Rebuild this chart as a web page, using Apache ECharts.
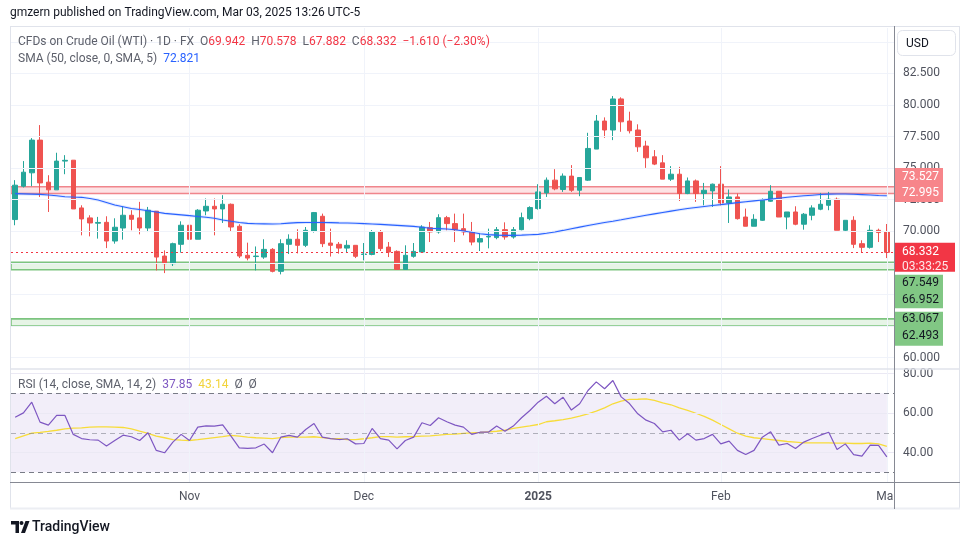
<!DOCTYPE html>
<html>
<head>
<meta charset="utf-8">
<title>CFDs on Crude Oil (WTI) 1D</title>
<script src="https://cdn.jsdelivr.net/npm/echarts@6/dist/echarts.min.js"></script>
<style>
  html, body { margin: 0; padding: 0; background: #fff; }
  #chart { width: 970px; height: 545px; }
</style>
</head>
<body>
<div id="chart"></div>
<script>
// trading days shown on the chart, by month
const octDays = [3,4,7,8,9,10,11,14,15,16,17,18,21,22,23,24,25,28,29,30,31];
const novDays = [1,4,5,6,7,8,11,12,13,14,15,18,19,20,21,22,25,26,27,28,29];
const decDays = [2,3,4,5,6,9,10,11,12,13,16,17,18,19,20,23,24,26,27,30,31];
const janDays = [2,3,6,7,8,9,10,13,14,15,16,17,20,21,22,23,24,27,28,29,30,31];
const febDays = [3,4,5,6,7,10,11,12,13,14,17,18,19,20,21,24,25,26,27,28];
const marDays = [3];

const opens = [
  70.93,73.57,74.63,77.22,73.89,73.28,75.56,75.63,71.85,71.06,
  70.64,70.71,69.23,70.26,71.27,71.06,70.26,71.59,68.04,67.44,
  68.97,70.48,69.37,71.61,71.98,71.77,72.14,70.40,68.10,68.00,
  67.96,68.57,66.83,68.97,69.37,68.89,70.02,71.19,69.07,68.97,
  68.67,68.89,68.17,68.17,69.95,68.75,68.41,66.98,68.02,68.36,
  70.29,69.95,71.08,70.61,70.21,69.95,69.15,69.55,69.50,70.13,
  69.55,70.13,71.00,71.80,73.04,74.05,73.31,74.37,73.25,74.05,
  76.51,78.73,78.02,80.48,78.73,78.02,76.75,75.90,75.42,74.13,
  74.52,72.99,73.99,72.99,73.20,73.73,72.25,72.72,71.13,70.40,
  70.87,72.38,73.17,71.13,71.53,70.56,71.27,71.75,72.06,72.54,
  70.08,70.87,69.02,68.73,70.08,69.942
];
const closes = [
  73.65,74.68,77.22,73.83,73.28,75.56,75.62,71.77,70.98,70.66,
  70.70,69.23,70.32,71.27,70.95,70.26,71.67,67.96,67.44,69.02,
  70.48,69.37,71.67,71.98,71.77,72.14,70.34,68.04,67.88,68.04,
  68.57,66.83,69.02,69.37,68.89,70.08,71.48,69.02,68.89,68.67,
  68.89,68.02,68.20,69.95,68.63,68.36,66.98,68.10,68.41,70.34,
  69.95,71.08,70.61,70.13,69.95,69.15,69.42,69.60,70.13,69.55,
  70.13,71.08,71.88,73.12,74.05,73.36,74.37,73.25,74.26,76.56,
  78.73,78.02,80.48,78.67,77.96,76.69,75.82,75.32,74.13,74.52,
  72.99,73.99,72.99,73.25,73.73,72.25,72.72,71.00,70.40,70.95,
  72.46,73.17,71.13,71.53,70.56,71.35,71.85,72.14,72.54,70.08,
  70.87,68.97,68.73,70.08,69.90,68.332
];
const lows = [
  70.48,73.47,73.57,72.72,71.53,73.28,74.52,71.77,69.68,69.60,
  69.42,68.67,69.02,69.34,70.08,69.76,69.94,66.90,66.69,67.25,
  68.31,68.36,69.37,71.27,69.68,70.66,70.02,67.88,67.70,66.90,
  67.82,66.75,66.59,68.20,68.25,68.75,69.90,68.75,68.00,68.23,
  68.28,67.88,67.70,68.10,68.44,67.96,66.98,66.98,67.91,68.36,
  69.15,69.82,70.08,69.15,69.68,68.89,68.44,68.65,69.37,69.34,
  69.42,70.08,70.87,71.72,72.72,73.25,73.12,73.12,72.78,73.99,
  76.51,77.40,77.22,77.88,77.75,76.29,75.02,75.24,74.13,73.99,
  72.40,72.94,72.33,72.06,71.93,72.06,70.66,70.93,70.40,70.40,
  70.82,72.33,71.13,70.16,70.48,70.13,70.87,71.67,71.67,70.08,
  70.02,68.67,68.36,68.63,69.15,67.882
];
const highs = [
  74.05,75.56,77.38,78.41,74.44,76.22,76.03,75.63,72.06,71.27,
  71.14,71.19,71.03,71.98,71.67,72.33,71.93,71.59,68.49,69.10,
  70.79,71.40,71.75,72.60,72.60,72.86,72.20,70.56,69.10,68.80,
  69.37,68.67,69.37,69.76,70.16,70.34,71.53,71.40,70.21,69.15,
  69.29,68.89,69.07,70.10,70.10,69.15,68.49,68.89,69.07,70.48,
  70.74,71.35,71.22,71.40,71.40,70.74,69.82,70.21,70.34,70.71,
  70.34,71.48,71.98,73.73,74.26,74.92,74.58,75.24,74.26,77.80,
  79.21,79.02,80.71,80.61,79.47,78.47,77.17,76.43,76.03,75.16,
  75.10,74.26,74.10,73.83,73.78,75.16,73.31,72.99,71.80,71.35,
  72.60,73.65,73.17,71.53,71.98,71.45,72.06,73.04,73.12,72.67,
  70.87,71.19,69.29,70.48,70.21,70.578
];
// SMA (50) as drawn
const sma50 = [
  72.98,72.96,72.94,72.92,72.88,72.82,72.74,72.71,72.69,72.60,
  72.48,72.28,72.08,71.95,71.80,71.72,71.63,71.53,71.42,71.36,
  71.30,71.24,71.17,71.11,71.03,70.90,70.79,70.70,70.63,70.60,
  70.59,70.58,70.60,70.65,70.69,70.70,70.70,70.70,70.69,70.67,
  70.66,70.64,70.61,70.58,70.55,70.51,70.47,70.43,70.39,70.32,
  70.24,70.21,70.18,70.12,70.02,69.92,69.80,69.74,69.70,69.68,
  69.68,69.70,69.73,69.76,69.85,69.95,70.07,70.20,70.33,70.46,
  70.58,70.70,70.80,70.91,71.03,71.15,71.27,71.38,71.49,71.60,
  71.71,71.80,71.88,71.96,72.04,72.11,72.19,72.27,72.34,72.41,
  72.48,72.55,72.62,72.69,72.75,72.81,72.86,72.91,72.94,72.95,
  72.95,72.93,72.90,72.87,72.84,72.82
];
const rsi = [
  57.9,60.1,65.5,55.4,53.9,58.8,58.8,49.2,47.1,46.5,
  46.3,43.3,46.1,48.8,48.0,46.1,50.0,41.1,39.9,45.3,
  49.2,46.1,52.9,53.5,53.4,54.0,48.3,42.4,42.1,42.4,
  44.3,39.9,47.8,48.7,47.8,51.7,54.7,47.8,47.1,46.6,
  47.0,44.4,44.6,52.2,47.1,46.3,41.9,46.1,47.8,55.1,
  53.7,57.6,55.6,53.9,52.9,49.2,50.3,50.3,53.4,50.8,
  53.4,57.6,61.3,65.5,68.5,64.7,68.0,61.5,64.7,71.4,
  75.8,72.3,76.5,68.2,64.8,59.6,56.4,54.7,50.5,51.3,
  46.3,49.5,46.3,47.1,49.2,44.4,45.8,41.1,39.0,41.1,
  47.8,50.5,43.8,44.6,42.1,45.3,47.1,48.8,50.3,41.6,
  44.4,39.0,38.2,43.8,43.6,37.85
];
const rsiMa = [
  47.1,48.5,49.8,50.2,50.7,51.3,52.0,52.4,52.5,52.9,
  53.0,53.0,52.9,52.7,52.0,50.8,49.7,48.3,47.5,46.6,
  46.3,46.1,46.5,47.1,47.6,48.1,48.7,48.3,47.8,47.5,
  47.3,47.1,47.6,47.8,47.8,47.8,48.0,47.6,47.1,47.0,
  46.6,46.6,47.0,47.5,48.1,48.1,47.8,48.0,48.1,48.3,
  48.5,48.8,49.2,49.3,49.7,50.0,50.2,50.5,50.8,51.3,
  52.2,52.9,53.5,54.2,55.6,56.1,56.7,57.4,58.4,59.6,
  61.0,62.6,64.7,66.0,66.9,67.0,67.2,66.4,65.2,64.2,
  62.6,61.3,59.9,58.3,56.4,54.2,52.0,49.8,48.3,47.5,
  47.1,46.6,46.1,45.6,45.3,44.9,44.9,44.9,44.9,44.8,
  44.8,44.6,44.6,44.8,44.4,43.14
];

const priceTicks = [60, 62.5, 65, 67.5, 70, 72.5, 75, 77.5, 80, 82.5];
const priceGrid = [60, 62.5, 65, 67.5, 70, 72.5, 75, 77.5, 80, 82.5, 85];
const rsiTicks = [40, 60, 80];
const monthTicks = [['2024-11-01', 'Nov'], ['2024-12-02', 'Dec'], ['2025-01-02', '2025'], ['2025-02-03', 'Feb'], ['2025-03-03', 'Mar']];
const redZone = [72.995, 73.527];
const greenZones = [[66.952, 67.549], [62.493, 63.067]];
const lastPrice = 68.332;

const pad = d => (d < 10 ? '0' : '') + d;
const dates = [].concat(
  octDays.map(d => '2024-10-' + pad(d)),
  novDays.map(d => '2024-11-' + pad(d)),
  decDays.map(d => '2024-12-' + pad(d)),
  janDays.map(d => '2025-01-' + pad(d)),
  febDays.map(d => '2025-02-' + pad(d)),
  marDays.map(d => '2025-03-' + pad(d))
);
const candles = opens.map((o, i) => [o, closes[i], lows[i], highs[i]]);
const monthName = {};
monthTicks.forEach(t => { monthName[t[0]] = t[1]; });

const L = 11, R = 895;
const FONT = 'Roboto, "Liberation Sans", sans-serif';
const GRID = '#f0f3fa';

function hLine(v, color, type) {
  const ls = { color: color, type: type || 'solid', width: 1 };
  return [{ yAxis: v, x: L, lineStyle: ls }, { yAxis: v, x: R, lineStyle: ls }];
}
const monthLines = monthTicks.map(t => ({ xAxis: t[0], lineStyle: { color: GRID, type: 'solid', width: 1 } }));
const markerBase = { silent: true, symbol: ['none', 'none'], label: { show: false }, animation: false };

let chart = echarts.init(document.getElementById('chart'));
chart.setOption({
  animation: false,
  backgroundColor: '#ffffff',
  grid: [
    { left: L, top: 28, width: 880, height: 341 },
    { left: L, top: 369, width: 880, height: 113.3 }
  ],
  xAxis: [
    { type: 'category', gridIndex: 0, data: dates, axisLine: { show: false }, axisTick: { show: false }, axisLabel: { show: false }, splitLine: { show: false } },
    {
      type: 'category', gridIndex: 1, data: dates,
      axisLine: { show: false }, axisTick: { show: false }, splitLine: { show: false },
      axisLabel: {
        interval: (i, v) => monthName[v] !== undefined,
        formatter: v => (monthName[v] === '2025' ? '{b|2025}' : (monthName[v] || '')),
        color: '#50535e', fontSize: 12, fontFamily: FONT, margin: 9,
        rich: { b: { fontWeight: 'bold', fontSize: 12, fontFamily: FONT, color: '#50535e' } }
      }
    }
  ],
  yAxis: [
    {
      type: 'value', gridIndex: 0, position: 'right', offset: 4, min: 59.097, max: 86.097,
      axisLine: { show: false }, axisTick: { show: false }, splitLine: { show: false },
      axisLabel: { customValues: priceTicks, formatter: v => v.toFixed(3), color: '#50535e', fontSize: 12, fontFamily: FONT, margin: 8 }
    },
    {
      type: 'value', gridIndex: 1, position: 'right', offset: 4, min: 24.95, max: 82.3,
      axisLine: { show: false }, axisTick: { show: false }, splitLine: { show: false },
      axisLabel: { customValues: rsiTicks, formatter: v => v.toFixed(2), color: '#50535e', fontSize: 12, fontFamily: FONT, margin: 8 }
    }
  ],
  series: [
    {
      name: 'bgMain', type: 'line', xAxisIndex: 0, yAxisIndex: 0, z: 1,
      data: dates.map(() => null), symbol: 'none', silent: true,
      markLine: Object.assign({}, markerBase, {
        data: priceGrid.map(v => hLine(v, GRID)).concat(monthLines, [hLine(lastPrice, '#f23645', [2, 3])])
      }),
      markArea: {
        silent: true, label: { show: false },
        data: [
          [{ yAxis: redZone[0], x: L, itemStyle: { color: 'rgba(242,54,69,0.14)', borderColor: '#f0858c', borderWidth: 1.5 } }, { yAxis: redZone[1], x: R }]
        ].concat(greenZones.map(z => [
          { yAxis: z[0], x: L, itemStyle: { color: 'rgba(76,175,80,0.14)', borderColor: '#7cc47f', borderWidth: 1.6 } }, { yAxis: z[1], x: R }
        ]))
      }
    },
    {
      name: 'WTI', type: 'candlestick', xAxisIndex: 0, yAxisIndex: 0, z: 3,
      data: candles, barWidth: 5,
      itemStyle: { color: '#26a69a', color0: '#ef5350', borderColor: '#26a69a', borderColor0: '#ef5350', borderWidth: 1 }
    },
    {
      name: 'SMA glow', type: 'line', xAxisIndex: 0, yAxisIndex: 0, z: 4, data: sma50, symbol: 'none', silent: true,
      lineStyle: { color: 'rgba(41,98,255,0.14)', width: 3 }
    },
    {
      name: 'SMA 50', type: 'line', xAxisIndex: 0, yAxisIndex: 0, z: 5, data: sma50, symbol: 'none', silent: true,
      lineStyle: { color: '#2962ff', width: 1.1 }
    },
    {
      name: 'bgRsi', type: 'line', xAxisIndex: 1, yAxisIndex: 1, z: 1,
      data: dates.map(() => null), symbol: 'none', silent: true,
      markArea: {
        silent: true, label: { show: false },
        data: [[{ yAxis: 30, x: L, itemStyle: { color: 'rgba(126,87,194,0.1)' } }, { yAxis: 70, xAxis: dates[dates.length - 1] }]]
      },
      markLine: Object.assign({}, markerBase, {
        data: rsiTicks.map(v => hLine(v, '#ebe9f4')).concat(monthLines, [
          hLine(70, '#787b86', [5, 4]), hLine(30, '#787b86', [5, 4]), hLine(50, 'rgba(120,123,134,0.55)', [5, 4])
        ])
      })
    },
    {
      name: 'RSI MA', type: 'line', xAxisIndex: 1, yAxisIndex: 1, z: 4, data: rsiMa, symbol: 'none', silent: true,
      lineStyle: { color: '#f7dc3a', width: 1.3 }
    },
    {
      name: 'RSI', type: 'line', xAxisIndex: 1, yAxisIndex: 1, z: 5, data: rsi, symbol: 'none', silent: true,
      lineStyle: { color: '#7e57c2', width: 1.2 }
    }
  ]
});

// overlay: frame, legends, price tags
const py = v => chart.convertToPixel({ yAxisIndex: 0 }, v);
function txt(x, y, text, fill, size, extra) {
  return Object.assign({ type: 'text', x: x, y: y, z: 130, silent: true,
    style: { text: text, fill: fill, font: (size || 12) + 'px ' + FONT, verticalAlign: 'middle' } }, extra || {});
}
function rich(x, y, text, styles) {
  const r = {};
  Object.keys(styles).forEach(k => { r[k] = { fill: styles[k], font: '12px ' + FONT }; });
  return { type: 'text', x: x, y: y, z: 130, silent: true,
    style: { text: text, rich: r, font: '12px ' + FONT, verticalAlign: 'middle' } };
}
function ln(x1, y1, x2, y2, stroke, w, z) {
  return { type: 'line', z: z || 115, silent: true, shape: { x1: x1, y1: y1, x2: x2, y2: y2 }, style: { stroke: stroke, lineWidth: w || 1 } };
}
function tag(top, h, w, fill, labels, color) {
  const els = [{ type: 'rect', z: 120, silent: true, shape: { x: 895, y: top, width: w, height: h }, style: { fill: fill } }];
  labels.forEach(l => els.push(txt(902, l[1], l[0], l[2] || color, 12, { z: 121 })));
  return els;
}

const GREY = '#5d606b', RED = '#f23645';
const yRed = py(redZone[0]);
const yLast = py(lastPrice);
const yG2 = py(greenZones[1][1]);

const graphic = [].concat(
  [
    txt(10, 13, 'gmzern published on TradingView.com, Mar 03, 2025 13:26 UTC-5', '#131722', 12),
    rich(18, 42, '{t|CFDs on Crude Oil (WTI) · 1D · FX}  {l|O}{v|69.942}  {l|H}{v|70.578}  {l|L}{v|67.882}  {l|C}{v|68.332}  {v|\u22121.610 (\u22122.30%)}',
      { t: GREY, l: GREY, v: RED }),
    rich(18, 59, '{t|SMA (50, close, 0, SMA, 5)}  {b|72.821}', { t: GREY, b: '#2962ff' }),
    rich(18, 385, '{t|RSI (14, close, SMA, 14, 2)}  {p|37.85}  {y|43.14}  {t|Ø}  {t|Ø}', { t: GREY, p: '#7e57c2', y: '#f2d33a' }),
    { type: 'rect', z: 105, silent: true, shape: { x: 895, y: 483, width: 64, height: 25 }, style: { fill: '#ffffff' } },
    { type: 'rect', z: 120, silent: true, shape: { x: 897.5, y: 30.5, width: 58, height: 25, r: 5 }, style: { fill: '#ffffff', stroke: '#e0e3eb', lineWidth: 1 } },
    txt(906, 43.5, 'USD', '#131722', 12, { z: 121 }),
    ln(10, 26.5, 960, 26.5, '#e0e3eb'),
    ln(10.5, 26, 10.5, 509, '#e0e3eb'),
    ln(959.5, 26, 959.5, 509, '#e0e3eb'),
    ln(10, 508.5, 960, 508.5, '#eceef3', 2),
    ln(10, 369, 960, 369, '#e0e3eb', 1.5),
    ln(10, 482.5, 960, 482.5, '#868993'),
    ln(894.5, 26, 894.5, 509, '#868993', 1, 122)
  ],
  tag(yRed - 25.5, 34, 48, '#f7858a', [['73.527', yRed - 16.5], ['72.995', yRed]], '#ffffff'),
  tag(yLast - 9.5, 29, 60, '#f23645', [['68.332', yLast], ['03:33:25', yLast + 14.5, 'rgba(255,255,255,0.88)']], '#ffffff'),
  tag(yLast + 22.5, 33.5, 48, '#81c784', [['67.549', yLast + 31], ['66.952', yLast + 48]], '#131722'),
  tag(yG2 - 7, 34, 48, '#81c784', [['63.067', yG2], ['62.493', yG2 + 17.5]], '#131722'),
  [
    { type: 'polygon', z: 130, silent: true, shape: { points: [[11, 521], [19, 521], [19, 533], [15.5, 533], [15.5, 524.5], [11, 524.5]] }, style: { fill: '#131722' } },
    { type: 'circle', z: 130, silent: true, shape: { cx: 21.5, cy: 523, r: 2 }, style: { fill: '#131722' } },
    { type: 'polygon', z: 130, silent: true, shape: { points: [[25.5, 521], [29.5, 521], [25, 533], [21, 533]] }, style: { fill: '#131722' } },
    { type: 'text', x: 32, y: 527.5, z: 130, silent: true, style: { text: 'TradingView', fill: '#131722', font: '500 14px ' + FONT, verticalAlign: 'middle' } }
  ]
);
chart.setOption({ graphic: graphic });
</script>
</body>
</html>
